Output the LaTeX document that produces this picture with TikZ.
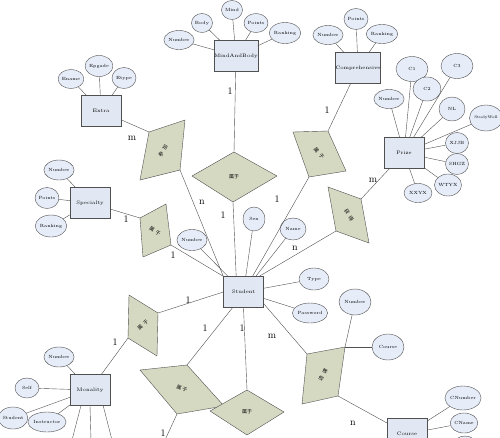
\documentclass[tikz,border=0pt]{standalone}
\usepackage{fontspec}
\newfontfamily\cjk{Noto Sans CJK SC}
\usetikzlibrary{shapes.geometric}
\definecolor{EntFill}{HTML}{E2E8F3}
\definecolor{AttrFill}{HTML}{E6ECF8}
\definecolor{RelFill}{HTML}{D6D9C2}
\definecolor{LineGray}{HTML}{505050}

\begin{document}
\begin{tikzpicture}[x=1pt,y=-1pt,
  ent/.style={draw=LineGray,fill=EntFill,minimum width=40pt,minimum height=31pt,inner sep=0pt,font=\fontsize{5}{6}\selectfont},
  attr/.style={draw=LineGray,fill=AttrFill,ellipse,inner sep=0pt,minimum width=24pt,minimum height=19pt,font=\fontsize{4.5}{5}\selectfont},
  big/.style={minimum width=32pt,minimum height=25pt},
  rel/.style={draw=LineGray,fill=RelFill},
  rtext/.style={font=\cjk\fontsize{5}{6}\selectfont},
  card/.style={font=\fontsize{10}{12}\selectfont},
  lnk/.style={draw=LineGray}]
  \useasboundingbox (0,0) rectangle (500,437);
  \clip (0,0) rectangle (500,437);

  % relationship shapes
  \coordinate (exA) at (149,132); \coordinate (exB) at (185,120);
  \coordinate (exC) at (180,170); \coordinate (exD) at (140,180);
  \coordinate (mbA) at (234,152); \coordinate (mbB) at (277,176);
  \coordinate (mbC) at (233,202); \coordinate (mbD) at (192,176);
  \coordinate (coA) at (293,132); \coordinate (coB) at (328,131);
  \coordinate (coC) at (346,171); \coordinate (coD) at (309,177);
  \coordinate (prA) at (328,187); \coordinate (prB) at (361,199);
  \coordinate (prC) at (369,243); \coordinate (prD) at (336,231);
  \coordinate (spA) at (140,218); \coordinate (spB) at (166,204);
  \coordinate (spC) at (171,245); \coordinate (spD) at (143,257);
  \coordinate (moA) at (129,295); \coordinate (moB) at (158,313);
  \coordinate (moC) at (157,356); \coordinate (moD) at (128,338);
  \coordinate (llA) at (140,370); \coordinate (llB) at (187,365);
  \coordinate (llC) at (224,406); \coordinate (llD) at (177,414);
  \coordinate (lcA) at (247,390); \coordinate (lcB) at (284,412);
  \coordinate (lcC) at (247,435); \coordinate (lcD) at (210,411);
  \coordinate (cdA) at (307,354); \coordinate (cdB) at (345,347);
  \coordinate (cdC) at (338,396); \coordinate (cdD) at (302,404);

  \draw[rel] (exA)--(exB)--(exC)--(exD)--cycle;
  \draw[rel] (mbA)--(mbB)--(mbC)--(mbD)--cycle;
  \draw[rel] (coA)--(coB)--(coC)--(coD)--cycle;
  \draw[rel] (prA)--(prB)--(prC)--(prD)--cycle;
  \draw[rel] (spA)--(spB)--(spC)--(spD)--cycle;
  \draw[rel] (moA)--(moB)--(moC)--(moD)--cycle;
  \draw[rel] (llA)--(llB)--(llC)--(llD)--cycle;
  \draw[rel] (lcA)--(lcB)--(lcC)--(lcD)--cycle;
  \draw[rel] (cdA)--(cdB)--(cdC)--(cdD)--cycle;

  \node[rtext,rotate=60] (exlbl) at (163,151) {参\hspace{3pt}加};
  \node[rtext] (mblbl) at (234,177) {属于};
  \node[rtext,rotate=-50] (colbl) at (319,153) {属\hspace{3pt}于};
  \node[rtext,rotate=-60] (prlbl) at (349,215) {获\hspace{3pt}得};
  \node[rtext,rotate=-30] (splbl) at (155,231) {属\hspace{2pt}于};
  \node[rtext,rotate=45] (molbl) at (143,325) {属\hspace{3pt}于};
  \node[rtext,rotate=-20] (lllbl) at (182,389) {属\hspace{1pt}于};
  \node[rtext] (lclbl) at (247,412) {属于};
  \node[rtext,rotate=60] (cdlbl) at (323,375) {选\hspace{3pt}课};

  % entities
  \node[ent] (extra) at (101,111) {Extra};
  \node[ent] (mind) at (236,56) {MindAndBody};
  \node[ent] (comp) at (358,68) {Comprehensive};
  \node[ent] (prize) at (404,153) {Prize};
  \node[ent] (spec) at (90,203) {Specialty};
  \node[ent] (student) at (243.5,292) {Student};
  \node[ent] (moral) at (90,390) {Monality};
  \node[ent] (course) at (407,434) {Course};

  % attributes
  \node[attr] (ename) at (71,79) {Ename};
  \node[attr,minimum height=21pt] (epgade) at (99,66) {Epgade};
  \node[attr,minimum height=21pt] (etype) at (124,78) {Etype};

  \node[attr] (mbnum) at (179,40) {Number};
  \node[attr,minimum width=21pt] (mbbody) at (202,23) {Body};
  \node[attr,minimum width=21pt] (mbmind) at (232,10) {Mind};
  \node[attr] (mbpts) at (256,23) {Points};
  \node[attr,minimum width=29pt,minimum height=21pt] (mbrank) at (285,33) {Ranking};

  \node[attr] (conum) at (328,35) {Number};
  \node[attr,minimum height=21pt] (copts) at (356,19) {Points};
  \node[attr] (corank) at (382,34) {Ranking};

  \node[attr,big] (prc1) at (412,69) {C1};
  \node[attr,big] (prc3) at (457,66) {C3};
  \node[attr,minimum width=28pt,minimum height=24pt] (prc2) at (427,89) {C2};
  \node[attr,minimum width=26pt] (prnum) at (389,99) {Number};
  \node[attr,minimum width=26pt,minimum height=24pt] (prnl) at (452,109) {NL};
  \node[attr,minimum width=24pt,minimum height=26pt,font=\fontsize{3.8}{4.5}\selectfont] (prsw) at (486,118) {StudyWell};
  \node[attr,minimum width=23pt,minimum height=21pt] (prxj) at (457,143) {XJJB};
  \node[attr,minimum width=23pt,minimum height=21pt] (prsh) at (457,164) {SHGZ};
  \node[attr,minimum width=27pt,minimum height=22pt] (prwt) at (448,185) {WTYX};
  \node[attr,minimum width=28pt] (prxx) at (418,193) {XXYX};

  \node[attr,minimum height=20pt] (spnum) at (59,170) {Number};
  \node[attr,minimum width=22pt,minimum height=21pt] (sppts) at (47,198) {Points};
  \node[attr,minimum width=26pt,minimum height=22pt] (sprank) at (51,226) {Ranking};

  \node[attr,minimum width=26pt,minimum height=21pt] (stnum) at (192,240) {Number};
  \node[attr,minimum width=22pt,minimum height=24pt] (stsex) at (254,219) {Sex};
  \node[attr,minimum width=26pt,minimum height=22pt] (stname) at (293,229) {Name};
  \node[attr,minimum width=30pt,minimum height=22pt] (sttype) at (314,279) {Type};
  \node[attr,minimum width=26pt,minimum height=20pt] (stpass) at (310,313) {Password};

  \node[attr,minimum width=22pt,minimum height=20pt] (monum) at (59,357) {Number};
  \node[attr,minimum height=20pt] (moself) at (27,388) {Self};
  \node[attr,minimum width=26pt,minimum height=22pt] (mostu) at (13,418) {Student};
  \node[attr,minimum width=26pt,minimum height=20pt] (moins) at (47,422) {Instructor};
  \coordinate (mofree1) at (72,440);
  \coordinate (mofree2) at (91,440);
  \coordinate (mofree3) at (112,440);
  \coordinate (llfree) at (165,440);

  \node[attr,big,minimum height=26pt] (cdnum) at (355,302) {Number};
  \node[attr,big,minimum height=26pt] (cdcourse) at (388,347) {Course};

  \node[attr,minimum width=28pt,minimum height=24pt] (cscnum) at (463,398) {CNumber};
  \node[attr,minimum height=20pt] (cscname) at (464,423) {CName};
  \node[attr,minimum height=20pt] (csmore) at (465,446) {};

  % attribute links
  \draw[lnk] (extra) -- (ename);
  \draw[lnk] (extra) -- (epgade);
  \draw[lnk] (extra) -- (etype);
  \draw[lnk] (mind) -- (mbnum);
  \draw[lnk] (mind) -- (mbbody);
  \draw[lnk] (mind) -- (mbmind);
  \draw[lnk] (mind) -- (mbpts);
  \draw[lnk] (mind) -- (mbrank);
  \draw[lnk] (comp) -- (conum);
  \draw[lnk] (comp) -- (copts);
  \draw[lnk] (comp) -- (corank);
  \draw[lnk] (prize) -- (prc1);
  \draw[lnk] (prize) -- (prc3);
  \draw[lnk] (prize) -- (prc2);
  \draw[lnk] (prize) -- (prnum);
  \draw[lnk] (prize) -- (prnl);
  \draw[lnk] (prize) -- (prsw);
  \draw[lnk] (prize) -- (prxj);
  \draw[lnk] (prize) -- (prsh);
  \draw[lnk] (prize) -- (prwt);
  \draw[lnk] (prize) -- (prxx);
  \draw[lnk] (spec) -- (spnum);
  \draw[lnk] (spec) -- (sppts);
  \draw[lnk] (spec) -- (sprank);
  \draw[lnk] (student) -- (stnum);
  \draw[lnk] (student) -- (stsex);
  \draw[lnk] (student) -- (stname);
  \draw[lnk] (student) -- (sttype);
  \draw[lnk] (student) -- (stpass);
  \draw[lnk] (moral) -- (monum);
  \draw[lnk] (moral) -- (moself);
  \draw[lnk] (moral) -- (mostu);
  \draw[lnk] (moral) -- (moins);
  \draw[lnk] (moral.240) -- (mofree1);
  \draw[lnk] (moral.south) -- (mofree2);
  \draw[lnk] (moral.310) -- (mofree3);
  \draw[lnk] (cdB) -- (cdnum);
  \draw[lnk] (cdB) -- (cdcourse);
  \draw[lnk] (course) -- (cscnum);
  \draw[lnk] (course) -- (cscname);
  \draw[lnk] (course) -- (csmore);

  % relationship links
  \draw[lnk] (extra) -- (exA);
  \draw[lnk] (exC) -- (student.north west);
  \draw[lnk] (mind) -- (mbA);
  \draw[lnk] (mbC) -- (student.115);
  \draw[lnk] (comp) -- (coB);
  \draw[lnk] (coD) -- (student.60);
  \draw[lnk] (prize) -- (prB);
  \draw[lnk] (prD) -- (student.45);
  \draw[lnk] (spec) -- (spA);
  \draw[lnk] (spC) -- (student.north west);
  \draw[lnk] (student.west) -- (moB);
  \draw[lnk] (moral) -- (moD);
  \draw[lnk] (student.235) -- (llB);
  \draw[lnk] (llD) -- (llfree);
  \draw[lnk] (student.south) -- (lcA);
  \draw[lnk] (student.-30) -- (cdA);
  \draw[lnk] (cdC) -- (course);

  % cardinalities
  \node[card] (cex1) at (132,138) {m};
  \node[card] (cex2) at (202,202) {n};
  \node[card] (cmb1) at (230,91) {1};
  \node[card] (cmb2) at (223,215) {1};
  \node[card] (cco1) at (327,110) {1};
  \node[card] (cco2) at (277,199) {1};
  \node[card] (cpr1) at (373,180) {m};
  \node[card] (cpr2) at (295,248) {n};
  \node[card] (csp1) at (126,219) {1};
  \node[card] (csp2) at (173,255) {1};
  \node[card] (cmo1) at (188,300) {1};
  \node[card] (cmo2) at (115,342) {1};
  \node[card] (cll1) at (205,328) {1};
  \node[card] (cll2) at (163,433) {1};
  \node[card] (clc1) at (242,328) {1};
  \node[card] (ccd1) at (272,336) {m};
  \node[card] (ccd2) at (353,423) {n};
\end{tikzpicture}
\end{document}
